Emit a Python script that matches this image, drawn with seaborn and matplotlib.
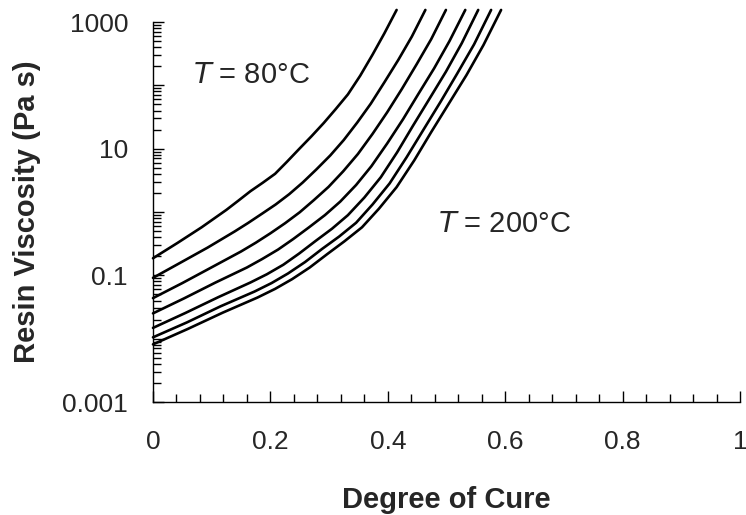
import numpy as np
import pandas as pd
import matplotlib
matplotlib.use("Agg")
import matplotlib.pyplot as plt
import seaborn as sns
from matplotlib.ticker import LogLocator, NullFormatter, MultipleLocator

# Isothermal curves, 80 C (top) to 200 C (bottom)
temps = [80, 100, 120, 140, 160, 180, 200]

cure_80 = [0, .042, .083, .125, .145, .166, .187, .208, .228, .249, .270, .291, .311, .332, .353, .374, .394, .415]
visc_80 = [0.186, 0.326, 0.575, 1.08, 1.50, 2.13, 2.90, 4.01, 6.18, 9.89, 15.7, 25.5, 41.9, 71.9, 142, 305, 658, 1550]

cure_100 = [0, .046, .093, .139, .162, .186, .209, .232, .255, .278, .302, .325, .348, .371, .394, .418, .441, .464]
visc_100 = [0.0912, 0.157, 0.274, 0.492, 0.671, 0.944, 1.315, 1.91, 2.92, 4.67, 7.82, 13.7, 25.9, 51.3, 111, 253, 590, 1550]

cure_120 = [0, .050, .100, .150, .175, .200, .225, .250, .274, .299, .324, .349, .374, .399, .424, .449, .474, .499]
visc_120 = [0.0437, 0.0755, 0.134, 0.238, 0.327, 0.461, 0.665, 0.991, 1.54, 2.49, 4.39, 8.22, 17.1, 37.6, 87.7, 214, 537, 1550]

cure_140 = [0, .053, .106, .160, .186, .213, .239, .266, .293, .319, .346, .372, .399, .426, .452, .479, .505, .532]
visc_140 = [0.0251, 0.0433, 0.0766, 0.133, 0.181, 0.255, 0.375, 0.575, 0.895, 1.46, 2.67, 5.28, 12.1, 29.2, 72.9, 186, 498, 1550]

cure_160 = [0, .055, .111, .166, .194, .222, .249, .277, .305, .332, .360, .388, .416, .443, .471, .499, .526, .554]
visc_160 = [0.0148, 0.0254, 0.0451, 0.0771, 0.104, 0.147, 0.221, 0.349, 0.545, 0.891, 1.69, 3.53, 8.79, 23.1, 61.4, 164, 462, 1550]

cure_180 = [0, .058, .115, .173, .202, .230, .259, .288, .317, .346, .374, .403, .432, .461, .490, .518, .547, .576]
visc_180 = [0.0105, 0.0181, 0.0324, 0.0555, 0.0755, 0.107, 0.162, 0.261, 0.409, 0.676, 1.315, 2.82, 7.31, 20.1, 55.2, 152, 444, 1550]

cure_200 = [0, .059, .119, .178, .208, .237, .267, .297, .326, .356, .385, .415, .445, .474, .504, .534, .563, .593]
visc_200 = [0.00813, 0.0142, 0.0258, 0.0446, 0.0611, 0.0871, 0.133, 0.217, 0.344, 0.573, 1.13, 2.47, 6.52, 18.3, 51.5, 145, 433, 1550]

x_ticks = [0, 0.2, 0.4, 0.6, 0.8, 1]
x_ticklabels = ["0", "0.2", "0.4", "0.6", "0.8", "1"]
y_ticks = [1e-3, 1e-2, 1e-1, 1, 10, 100, 1000]
y_ticklabels = ["0.001", "", "0.1", "", "10", "", "1000"]

cures = [cure_80, cure_100, cure_120, cure_140, cure_160, cure_180, cure_200]
viscs = [visc_80, visc_100, visc_120, visc_140, visc_160, visc_180, visc_200]

rows = []
for t, xs, ys in zip(temps, cures, viscs):
    for xv, yv in zip(xs, ys):
        rows.append({"T": t, "cure": xv, "visc": yv})
df = pd.DataFrame(rows)

sns.set_style("ticks")
plt.rcParams["font.family"] = ["Liberation Sans", "DejaVu Sans"]

fig = plt.figure(figsize=(7.46, 5.15), dpi=100)
ax = fig.add_axes([153 / 746, 1 - 402 / 515, 587 / 746, 380 / 515])

sns.lineplot(data=df, x="cure", y="visc", hue="T", palette=["black"] * len(temps),
             estimator=None, sort=False, legend=False, linewidth=1.9, ax=ax)
ax.set_yscale("log")
ax.set_xlim(0, 1)
ax.set_ylim(1e-3, 1e3)
for ln in ax.lines:
    ln.set_clip_on(False)
    ln.set_solid_joinstyle("round")
    ln.set_solid_capstyle("round")

ax.set_xticks(x_ticks)
ax.set_xticklabels(x_ticklabels)
ax.xaxis.set_minor_locator(MultipleLocator(0.04))
ax.set_yticks(y_ticks)
ax.set_yticklabels(y_ticklabels)
ax.yaxis.set_minor_locator(LogLocator(base=10, subs=np.arange(2, 10), numticks=30))
ax.yaxis.set_minor_formatter(NullFormatter())

ax.tick_params(which="both", direction="in", color="black", width=1)
ax.tick_params(which="major", length=8)
ax.tick_params(which="minor", length=6)
ax.tick_params(axis="x", which="major", pad=20, labelsize=19)
ax.tick_params(axis="y", which="major", pad=18, labelsize=19)

for s in ["top", "right"]:
    ax.spines[s].set_visible(False)
for s in ["left", "bottom"]:
    ax.spines[s].set_color("black")
    ax.spines[s].set_linewidth(1)

ax.set_xlabel("Degree of Cure", fontsize=21, fontweight="bold")
ax.set_ylabel("Resin Viscosity (Pa s)", fontsize=21, fontweight="bold")
ax.xaxis.set_label_coords(0.5, -0.222)
ax.yaxis.set_label_coords(-0.19, 0.5)

ax.text(0.068, 145, r"$\mathit{T}$ = 80°C", fontsize=21, ha="left", va="center")
ax.text(0.486, 0.645, r"$\mathit{T}$ = 200°C", fontsize=21, ha="left", va="center")

fig.savefig("out.png", dpi=100)
